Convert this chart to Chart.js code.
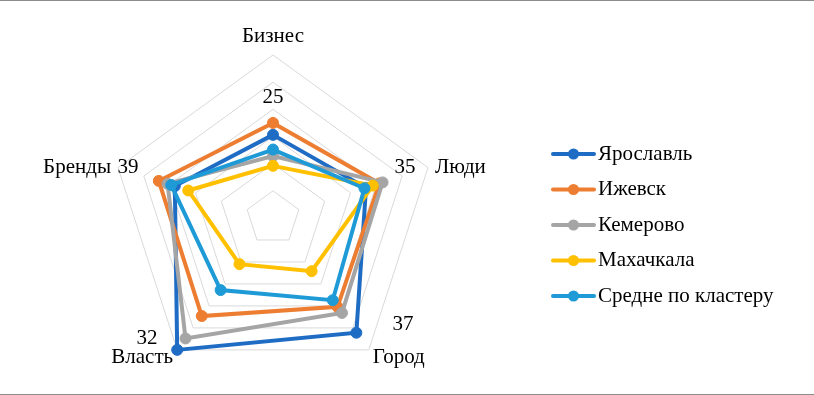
<!DOCTYPE html>
<html>
<head>
<meta charset="utf-8">
<script src="https://cdn.jsdelivr.net/npm/chart.js@4.4.0/dist/chart.umd.min.js"></script>
<style>
  html, body { margin: 0; padding: 0; background: #fff; }
  #wrap { position: relative; width: 814px; height: 395px; }
</style>
</head>
<body>
<div id="wrap"><canvas id="radar" width="814" height="395"></canvas></div>
<script>
// Данные (оценены по картинке)
const categories = ['Бизнес', 'Люди', 'Город', 'Власть', 'Бренды'];
const axisNotes = ['25', '35', '37', '32', '39'];
const seriesNames = ['Ярославль', 'Ижевск', 'Кемерово', 'Махачкала', 'Средне по кластеру'];
const yaroslavl = [15.3, 18.0, 26.1, 30.0, 19.0];
const izhevsk = [17.5, 20.6, 20.2, 22.3, 22.1];
const kemerovo = [11.4, 21.2, 21.6, 27.4, 20.4];
const makhachkala = [9.6, 19.3, 12.1, 10.5, 16.4];
const clusterAvg = [12.6, 17.7, 18.7, 16.4, 19.7];
const seriesColors = ['#1f6cc4', '#ed7d31', '#a5a5a5', '#ffc000', '#1e9bd7'];

const allSeries = [yaroslavl, izhevsk, kemerovo, makhachkala, clusterAvg];
const FONT = '21px "Liberation Serif", "Times New Roman", serif';

// подписи осей, числа и легенда
const textPlugin = {
    id: 'texts',
    afterDraw(chart) {
        const ctx = chart.ctx;
        const s = chart.scales.r;
        const xc = s.xCenter, yc = s.yCenter, R = s.drawingArea;
        ctx.save();
        ctx.font = FONT;
        ctx.fillStyle = '#000';
        ctx.textBaseline = 'middle';

        const cat = [
            [xc, yc - R - 19, 'center'],
            [xc + R * 0.951 + 7, yc - R * 0.309, 'left'],
            [xc + R * 0.588 + 4, yc + R * 0.809 + 8, 'left'],
            [xc - R * 0.588 - 4, yc + R * 0.809 + 8, 'right'],
            [xc - R * 0.951 - 7, yc - R * 0.309, 'right']
        ];
        cat.forEach((p, i) => {
            ctx.textAlign = p[2];
            ctx.fillText(categories[i], p[0], p[1]);
        });

        const notes = [
            [xc, yc - 121],
            [xc + 132, yc - 51],
            [xc + 130, yc + 106],
            [xc - 126, yc + 120],
            [xc - 145, yc - 51]
        ];
        ctx.textAlign = 'center';
        notes.forEach((p, i) => ctx.fillText(axisNotes[i], p[0], p[1]));

        // легенда
        ctx.textAlign = 'left';
        seriesNames.forEach((name, i) => {
            const y = 154 + i * 35.5;
            ctx.strokeStyle = seriesColors[i];
            ctx.lineWidth = 4;
            ctx.lineCap = 'round';
            ctx.beginPath();
            ctx.moveTo(553, y);
            ctx.lineTo(594, y);
            ctx.stroke();
            ctx.fillStyle = seriesColors[i];
            ctx.beginPath();
            ctx.arc(573.5, y, 5.5, 0, Math.PI * 2);
            ctx.fill();
            ctx.fillStyle = '#000';
            ctx.fillText(name, 598, y);
        });

        // рамка сверху и снизу
        ctx.strokeStyle = '#8c8c8c';
        ctx.lineWidth = 1;
        ctx.beginPath();
        ctx.moveTo(0, 0.5); ctx.lineTo(814, 0.5);
        ctx.moveTo(0, 394.5); ctx.lineTo(814, 394.5);
        ctx.stroke();
        ctx.restore();
    }
};

const ctx = document.getElementById('radar').getContext('2d');
new Chart(ctx, {
    type: 'radar',
    data: {
        labels: categories,
        datasets: allSeries.map((d, i) => ({
            label: seriesNames[i],
            data: d,
            borderColor: seriesColors[i],
            backgroundColor: seriesColors[i],
            pointBackgroundColor: seriesColors[i],
            pointBorderColor: seriesColors[i],
            borderWidth: 4,
            pointRadius: 5.5,
            pointBorderWidth: 1,
            fill: false,
            order: allSeries.length - 1 - i // последняя серия сверху
        }))
    },
    options: {
        responsive: false,
        devicePixelRatio: 1,
        animation: false,
        layout: { padding: { left: 110, right: 378, top: 55, bottom: 14 } },
        plugins: { legend: { display: false }, tooltip: { enabled: false } },
        scales: {
            r: {
                min: 0,
                max: 30,
                ticks: { display: false, stepSize: 5 },
                grid: { color: '#d9d9d9', lineWidth: 1 },
                angleLines: { display: false },
                pointLabels: { display: false }
            }
        }
    },
    plugins: [textPlugin]
});
</script>
</body>
</html>
